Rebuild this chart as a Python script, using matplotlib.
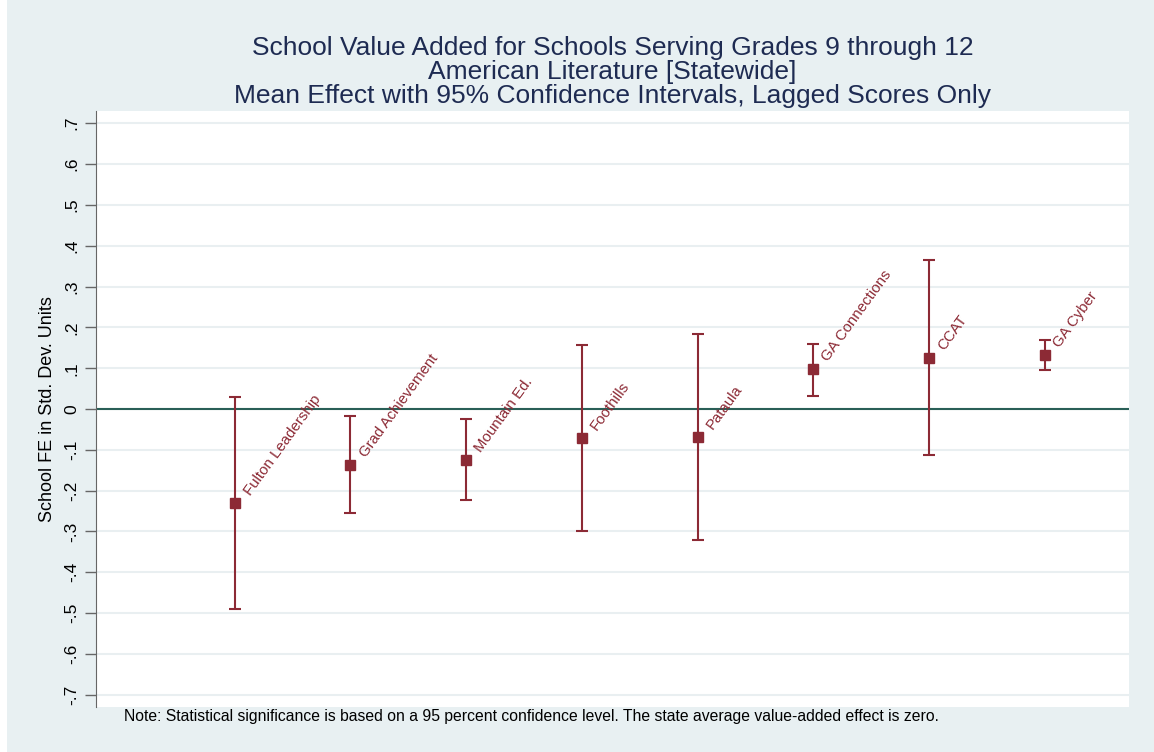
import numpy as np
import matplotlib
matplotlib.use("Agg")
import matplotlib.pyplot as plt

plt.rcParams['font.family'] = ['Liberation Sans', 'DejaVu Sans']

# school names and estimates
schools = ["Fulton Leadership", "Grad Achievement", "Mountain Ed.", "Foothills",
           "Pataula", "GA Connections", "CCAT", "GA Cyber"]
effect = [-0.230, -0.138, -0.125, -0.071, -0.069, 0.097, 0.126, 0.132]
ci_low = [-0.490, -0.255, -0.224, -0.300, -0.322, 0.033, -0.112, 0.095]
ci_high = [0.029, -0.018, -0.025, 0.156, 0.184, 0.159, 0.365, 0.169]

yticks = [-0.7, -0.6, -0.5, -0.4, -0.3, -0.2, -0.1, 0, 0.1, 0.2, 0.3, 0.4, 0.5, 0.6, 0.7]
ytick_labels = ["-.7", "-.6", "-.5", "-.4", "-.3", "-.2", "-.1", "0",
                ".1", ".2", ".3", ".4", ".5", ".6", ".7"]

bg = "#e8f0f2"
red = "#8c2a35"
navy = "#1e2b52"

fig = plt.figure(figsize=(11.54, 7.52), dpi=100, facecolor=bg)
# thin white strip on the left edge, as in the original export
fig.patches.append(plt.Rectangle((0, 0), 7 / 1154, 1, transform=fig.transFigure,
                                 facecolor="white", edgecolor="none", zorder=-1))

ax = fig.add_axes([0.0832, 0.0598, 0.8951, 0.7926])
ax.set_facecolor("white")

x = np.arange(1, len(schools) + 1)
eff = np.array(effect)
lo = eff - np.array(ci_low)
hi = np.array(ci_high) - eff

ax.errorbar(x, eff, yerr=[lo, hi], fmt="s", color=red, ecolor=red,
            markersize=7.5, elinewidth=1.5, capsize=4.5, capthick=1.5, zorder=3)

# labels to the right of each point, tilted
for xi, yi, name in zip(x, eff, schools):
    ax.annotate(name, (xi, yi), xytext=(11, 5), textcoords="offset points",
                rotation=54, rotation_mode="anchor", ha="left", va="baseline",
                color=red, fontsize=10.8)

ax.axhline(0, color="#2a5f57", lw=1.5, zorder=2)

ax.set_xlim(-0.2, 8.73)
ax.set_ylim(-0.73, 0.73)
ax.set_yticks(yticks)
ax.set_yticklabels(ytick_labels, rotation=90, va="center", fontsize=12.5)
ax.set_xticks([])
ax.yaxis.grid(True, color="#e9eff1", lw=1.5)
ax.set_axisbelow(True)
ax.tick_params(axis="y", length=8, width=1, color="#666666", pad=4)

for s in ["top", "right", "bottom"]:
    ax.spines[s].set_visible(False)
ax.spines["left"].set_color("#666666")

ax.set_ylabel("School FE in Std. Dev. Units", fontsize=13, labelpad=6)

ax.set_title("School Value Added for Schools Serving Grades 9 through 12\n"
             "American Literature [Statewide]\n"
             "Mean Effect with 95% Confidence Intervals, Lagged Scores Only",
             color=navy, fontsize=19, linespacing=1.0, pad=6)

fig.text(124 / 1154, 1 - 717 / 752,
         "Note: Statistical significance is based on a 95 percent confidence level. "
         "The state average value-added effect is zero.",
         fontsize=11.3, va="center", ha="left")

fig.savefig("out.png", dpi=100, facecolor=bg)
